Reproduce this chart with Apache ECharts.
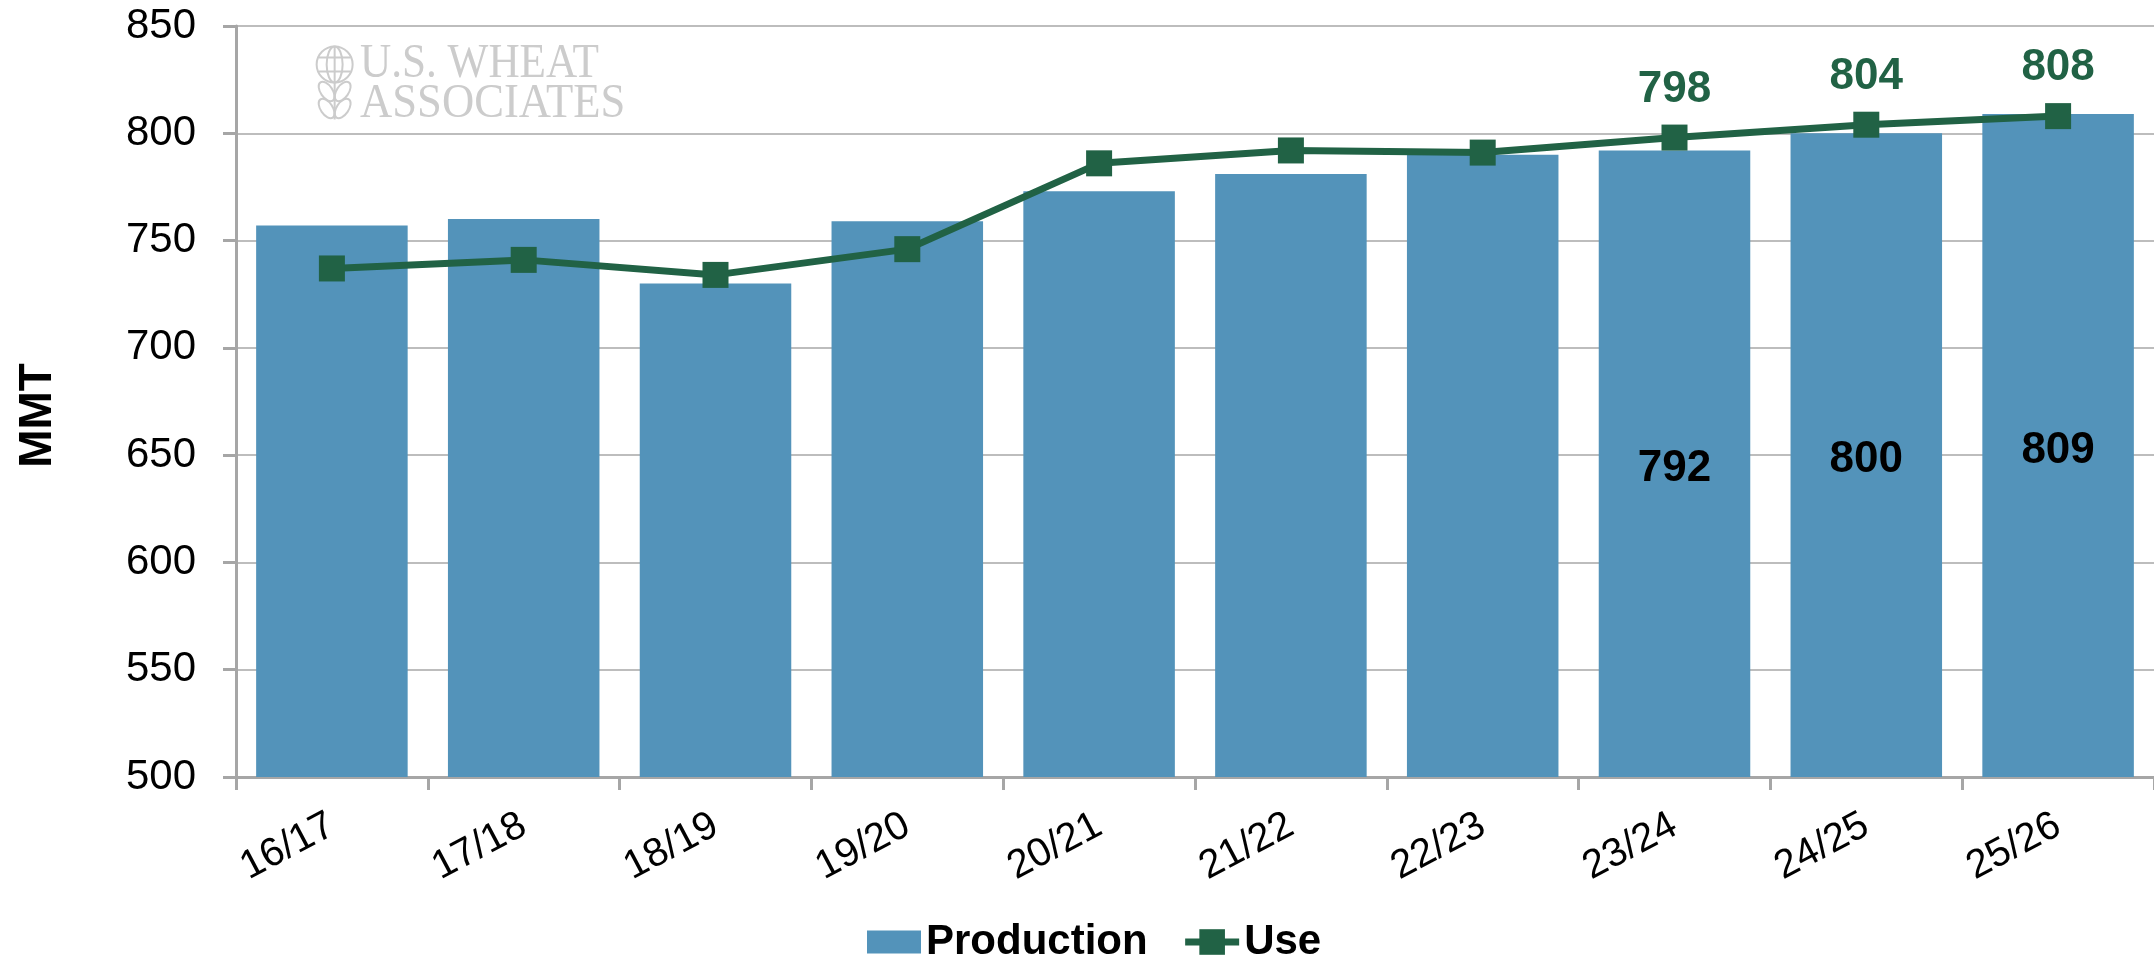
<!DOCTYPE html>
<html>
<head>
<meta charset="utf-8">
<title>World wheat production and use</title>
<script src="https://cdn.jsdelivr.net/npm/echarts@6/dist/echarts.min.js"></script>
<style>
  html, body { margin: 0; padding: 0; background: #fff; }
  #chart { width: 2154px; height: 963px; }
</style>
</head>
<body>
<div id="chart"></div>
<script>
  // marketing years
  var years = ['16/17', '17/18', '18/19', '19/20', '20/21', '21/22', '22/23', '23/24', '24/25', '25/26'];
  // MMT
  var production = [757, 760, 730, 759, 773, 781, 790, 792, 800, 809];
  var use = [737, 741, 734, 746, 786, 792, 791, 798, 804, 808];
  // only the last three years carry value labels
  var labelFrom = 7;
  var yTicks = { min: 500, max: 850, step: 50 };

  var barColor = '#5393ba';
  var lineColor = '#216245';
  var axisGray = '#a6a6a6';
  var wmGray = '#cccccc';
  var sans = '"Liberation Sans", Arial, sans-serif';

  var myChart = echarts.init(document.getElementById('chart'));

  var option = {
    animation: false,
    grid: { left: 236, right: 0, top: 26, bottom: 186 },
    legend: {
      top: 916,
      left: 862,
      itemWidth: 54,
      itemHeight: 32,
      itemGap: 34,
      lineStyle: { width: 7 },
      textStyle: { fontFamily: sans, fontWeight: 'bold', fontSize: 42, color: '#000' },
      data: [
        // flat rectangle for the bars
        { name: 'Production', icon: 'path://M0,0H52V22H0Z' },
        { name: 'Use' }
      ]
    },
    // U.S. Wheat Associates watermark
    graphic: [
      {
        type: 'group', left: 312, top: 44, silent: true,
        children: [
          { type: 'circle', shape: { cx: 21, cy: 19, r: 18 }, style: { fill: 'none', stroke: wmGray, lineWidth: 2 } },
          { type: 'ellipse', shape: { cx: 21, cy: 19, rx: 8, ry: 18 }, style: { fill: 'none', stroke: wmGray, lineWidth: 2 } },
          { type: 'line', shape: { x1: 21, y1: 1, x2: 21, y2: 74 }, style: { stroke: wmGray, lineWidth: 2 } },
          { type: 'line', shape: { x1: 5, y1: 12, x2: 37, y2: 12 }, style: { stroke: wmGray, lineWidth: 2 } },
          { type: 'line', shape: { x1: 5, y1: 26, x2: 37, y2: 26 }, style: { stroke: wmGray, lineWidth: 2 } },
          { type: 'ellipse', shape: { cx: 13, cy: 46, rx: 6, ry: 11 }, rotation: 0.6, originX: 13, originY: 46, style: { fill: 'none', stroke: wmGray, lineWidth: 2 } },
          { type: 'ellipse', shape: { cx: 29, cy: 46, rx: 6, ry: 11 }, rotation: -0.6, originX: 29, originY: 46, style: { fill: 'none', stroke: wmGray, lineWidth: 2 } },
          { type: 'ellipse', shape: { cx: 13, cy: 63, rx: 6, ry: 11 }, rotation: 0.6, originX: 13, originY: 63, style: { fill: 'none', stroke: wmGray, lineWidth: 2 } },
          { type: 'ellipse', shape: { cx: 29, cy: 63, rx: 6, ry: 11 }, rotation: -0.6, originX: 29, originY: 63, style: { fill: 'none', stroke: wmGray, lineWidth: 2 } }
        ]
      },
      {
        type: 'text', left: 360, top: 40, silent: true, scaleX: 0.9,
        style: { text: 'U.S. WHEAT', fill: wmGray, font: '48px "Liberation Serif", "Times New Roman", serif' }
      },
      {
        type: 'text', left: 360, top: 80, silent: true, scaleX: 0.93,
        style: { text: 'ASSOCIATES', fill: wmGray, font: '48px "Liberation Serif", "Times New Roman", serif' }
      }
    ],
    xAxis: {
      type: 'category',
      data: years,
      boundaryGap: true,
      axisLine: { lineStyle: { color: axisGray, width: 3 } },
      axisTick: { show: true, length: 13, lineStyle: { color: axisGray, width: 3 } },
      axisLabel: {
        rotate: 28,
        margin: 46,
        fontFamily: sans,
        fontSize: 40,
        color: '#000'
      }
    },
    yAxis: {
      type: 'value',
      min: yTicks.min,
      max: yTicks.max,
      interval: yTicks.step,
      name: 'MMT',
      nameLocation: 'middle',
      nameRotate: 90,
      nameGap: 175,
      nameTextStyle: { fontFamily: sans, fontWeight: 'bold', fontSize: 46, color: '#000', padding: [0, 28, 0, 0] },
      axisLine: { show: true, lineStyle: { color: axisGray, width: 3 } },
      axisTick: { show: true, length: 13, lineStyle: { color: axisGray, width: 3 } },
      axisLabel: { margin: 40, fontFamily: sans, fontSize: 42, color: '#000' },
      splitLine: { lineStyle: { color: '#bdbdbd', width: 2 } }
    },
    series: [
      {
        name: 'Production',
        type: 'bar',
        barCategoryGap: '21%',
        itemStyle: { color: barColor },
        data: production.map(function (v, i) {
          return {
            value: v,
            label: {
              show: i >= labelFrom,
              position: 'inside',
              offset: [0, 5],
              fontFamily: sans,
              fontWeight: 'bold',
              fontSize: 44,
              color: '#000'
            }
          };
        })
      },
      {
        name: 'Use',
        type: 'line',
        symbol: 'rect',
        symbolSize: 26,
        itemStyle: { color: lineColor },
        lineStyle: { color: lineColor, width: 7 },
        data: use.map(function (v, i) {
          return {
            value: v,
            label: {
              show: i >= labelFrom,
              position: 'top',
              distance: 13,
              fontFamily: sans,
              fontWeight: 'bold',
              fontSize: 44,
              color: lineColor
            }
          };
        })
      }
    ]
  };

  myChart.setOption(option);
</script>
</body>
</html>
